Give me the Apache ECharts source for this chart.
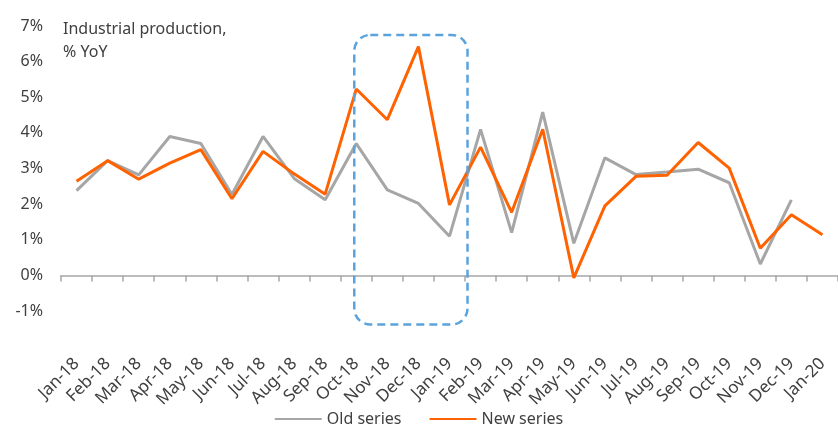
<!DOCTYPE html>
<html>
<head>
<meta charset="utf-8">
<script src="https://cdn.jsdelivr.net/npm/echarts@6/dist/echarts.min.js"></script>
<style>html,body{margin:0;padding:0;background:#fff}#c{width:838px;height:424px}</style>
</head>
<body>
<div id="c"></div>
<script>
const categories = ['Jan-18','Feb-18','Mar-18','Apr-18','May-18','Jun-18','Jul-18','Aug-18','Sep-18','Oct-18','Nov-18','Dec-18','Jan-19','Feb-19','Mar-19','Apr-19','May-19','Jun-19','Jul-19','Aug-19','Sep-19','Oct-19','Nov-19','Dec-19','Jan-20'];
const oldSeries = [2.38,3.22,2.82,3.9,3.7,2.27,3.9,2.72,2.12,3.7,2.4,2.02,1.1,4.1,1.2,4.58,0.9,3.3,2.83,2.9,2.98,2.6,0.32,2.12,null];
const newSeries = [2.64,3.22,2.7,3.15,3.53,2.15,3.48,2.85,2.28,5.23,4.37,6.42,1.98,3.6,1.77,4.1,-0.07,1.95,2.78,2.81,3.73,3.01,0.76,1.7,1.14];
const yTicks = {min:-1, max:7, interval:1};
const highlightRange = {from:'Oct-18', to:'Jan-19', top:6.75, bottom:-1.38};

const chart = echarts.init(document.getElementById('c'));
const txt = '#404040';
const font = 'Noto Sans';
chart.setOption({
  animation:false,
  title:{text:'Industrial production,\n% YoY', left:58, top:13,
    textStyle:{fontFamily:font, fontSize:16, fontWeight:'normal', color:txt, lineHeight:23}},
  grid:{left:61, top:26, width:785, height:285},
  legend:{bottom:-8, itemWidth:47, itemHeight:10, itemGap:28,
    textStyle:{fontFamily:font, fontSize:16, color:txt},
    data:[{name:'Old series', icon:'path://M0,4H47V6H0Z'},{name:'New series', icon:'path://M0,4H47V6H0Z'}]},
  xAxis:{type:'category', data:categories, boundaryGap:true,
    axisLine:{onZero:true, lineStyle:{color:'#a6a6a6', width:1.5}},
    axisTick:{show:true, length:6, lineStyle:{color:'#a6a6a6', width:1.5}},
    axisLabel:{rotate:45, margin:50, fontFamily:font, fontSize:17, color:txt, interval:0},
    splitLine:{show:false}},
  yAxis:{type:'value', min:yTicks.min, max:yTicks.max, interval:yTicks.interval,
    axisLine:{show:false}, axisTick:{show:false}, splitLine:{show:false},
    axisLabel:{formatter:'{value}%', margin:18, fontFamily:font, fontSize:16, color:txt}},
  series:[
    {name:'Old series', type:'line', data:oldSeries, symbol:'none', color:'#a6a6a6',
     lineStyle:{width:3, color:'#a6a6a6'}},
    {name:'New series', type:'line', data:newSeries, symbol:'none', color:'#ff6200',
     lineStyle:{width:3, color:'#ff6200'}}
  ]
});
const p1 = chart.convertToPixel({xAxisIndex:0, yAxisIndex:0}, [highlightRange.from, highlightRange.top]);
const p2 = chart.convertToPixel({xAxisIndex:0, yAxisIndex:0}, [highlightRange.to, highlightRange.bottom]);
const x1 = p1[0]-2, x2 = p2[0]+18;
chart.setOption({graphic:[{type:'rect', shape:{x:x1, y:p1[1], width:x2-x1, height:p2[1]-p1[1], r:16},
  style:{fill:'none', stroke:'#5ba3dc', lineWidth:2.5, lineDash:[8,5]}, z:10}]});
</script>
</body>
</html>
